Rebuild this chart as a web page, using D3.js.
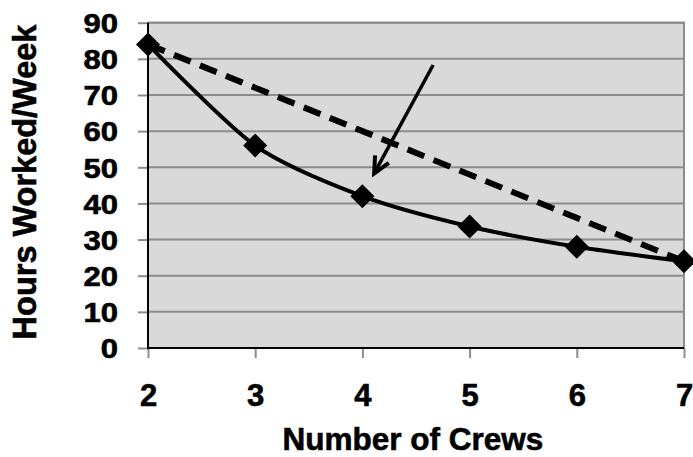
<!DOCTYPE html>
<html><head><meta charset="utf-8">
<script src="https://cdn.jsdelivr.net/npm/d3@7"></script>
<style>
html,body{margin:0;padding:0;background:#fff;}
svg{display:block;}
text{font-family:"Liberation Sans",Arial,sans-serif;font-weight:bold;fill:#000;stroke:#000;stroke-width:0.6px;}
</style></head>
<body>
<svg id="chart" width="693" height="457"></svg>
<script>
const crews = [2, 3, 4, 5, 6, 7];
const actualHours = [84, 56, 42, 33.6, 28, 24];
const linearHours = [84, 72, 60, 48, 36, 24];
const yTicks = [0, 10, 20, 30, 40, 50, 60, 70, 80, 90];
const xTicks = [2, 3, 4, 5, 6, 7];
const arrowFrom = [4.66, 78.3];
const arrowTo = [4.11, 48.3];
const xTitle = "Number of Crews";
const yTitle = "Hours Worked/Week";

(function () {
const svg = d3.select("#chart");
const pL = 148, pR = 684, pT = 22.7, pB = 348;
const x = d3.scaleLinear().domain([2, 7]).range([pL, pR]);
const y = d3.scaleLinear().domain([0, 90]).range([pB, pT]);

// plot background
svg.append("rect").attr("x", pL).attr("y", pT).attr("width", pR - pL).attr("height", pB - pT)
  .attr("fill", "#d9d9d9").attr("stroke", "#8c8c8c").attr("stroke-width", 2);

// gridlines
svg.append("g").selectAll("line").data(yTicks.filter(d => d > 0)).join("line")
  .attr("x1", pL).attr("x2", pR).attr("y1", d => y(d)).attr("y2", d => y(d))
  .attr("stroke", "#8c8c8c").attr("stroke-width", 2);

// y axis
const yAxis = svg.append("g").attr("transform", `translate(${pL},0)`)
  .call(d3.axisLeft(y).tickValues(yTicks).tickSize(10).tickPadding(20).tickFormat(d3.format("d")));
yAxis.select(".domain").remove();
yAxis.selectAll(".tick line").attr("stroke", "#8c8c8c").attr("stroke-width", 2);
yAxis.selectAll(".tick text").attr("font-size", 27).attr("font-family", null).attr("dy", "0.36em")
  .attr("transform", "scale(1.15,1)").attr("x", -30 / 1.15);

// x axis
const xAxis = svg.append("g").attr("transform", `translate(0,${pB})`)
  .call(d3.axisBottom(x).tickValues(xTicks).tickSize(10).tickPadding(26).tickFormat(d3.format("d")));
xAxis.select(".domain").remove();
xAxis.selectAll(".tick line").attr("stroke", "#8c8c8c").attr("stroke-width", 2);
xAxis.selectAll(".tick text").attr("font-size", 31).attr("font-family", null);

// axis lines (black left & bottom)
svg.append("line").attr("x1", pL).attr("x2", pL).attr("y1", pT).attr("y2", pB + 1)
  .attr("stroke", "#000").attr("stroke-width", 2);
svg.append("line").attr("x1", pL - 1).attr("x2", pR).attr("y1", pB).attr("y2", pB)
  .attr("stroke", "#000").attr("stroke-width", 2);

// dashed linear line
const linData = crews.map((c, i) => [c, linearHours[i]]);
svg.append("path").datum(linData)
  .attr("d", d3.line().x(d => x(d[0])).y(d => y(d[1])))
  .attr("fill", "none").attr("stroke", "#000").attr("stroke-width", 6)
  .attr("stroke-dasharray", "18,10");

// smooth actual line
const actData = crews.map((c, i) => [c, actualHours[i]]);
svg.append("path").datum(actData)
  .attr("d", d3.line().curve(d3.curveCardinal.tension(0.2)).x(d => x(d[0])).y(d => y(d[1])))
  .attr("fill", "none").attr("stroke", "#000").attr("stroke-width", 4);

// diamond markers
const r = 12;
svg.append("g").selectAll("path").data(actData).join("path")
  .attr("d", d => `M${x(d[0])},${y(d[1]) - r}L${x(d[0]) + r},${y(d[1])}L${x(d[0])},${y(d[1]) + r}L${x(d[0]) - r},${y(d[1])}Z`)
  .attr("fill", "#000");

// arrow annotation
const ax1 = x(arrowFrom[0]), ay1 = y(arrowFrom[1]), ax2 = x(arrowTo[0]), ay2 = y(arrowTo[1]);
svg.append("line").attr("x1", ax1).attr("y1", ay1).attr("x2", ax2).attr("y2", ay2)
  .attr("stroke", "#000").attr("stroke-width", 3.5);
const ang = Math.atan2(ay2 - ay1, ax2 - ax1), hl = 18, ha = 0.45;
const head = [[ax2 - hl * Math.cos(ang - ha), ay2 - hl * Math.sin(ang - ha)], [ax2, ay2],
              [ax2 - hl * Math.cos(ang + ha), ay2 - hl * Math.sin(ang + ha)]];
svg.append("path").attr("d", d3.line()(head)).attr("fill", "none").attr("stroke", "#000")
  .attr("stroke-width", 4).attr("stroke-linejoin", "miter");

// titles
svg.append("text").attr("x", (pL + pR) / 2 - 3).attr("y", 450).attr("text-anchor", "middle")
  .attr("font-size", 31.5).text(xTitle);
svg.append("text").attr("transform", "translate(36,182) rotate(-90)").attr("text-anchor", "middle")
  .attr("font-size", 32.5).text(yTitle);
})();
</script>
</body></html>
